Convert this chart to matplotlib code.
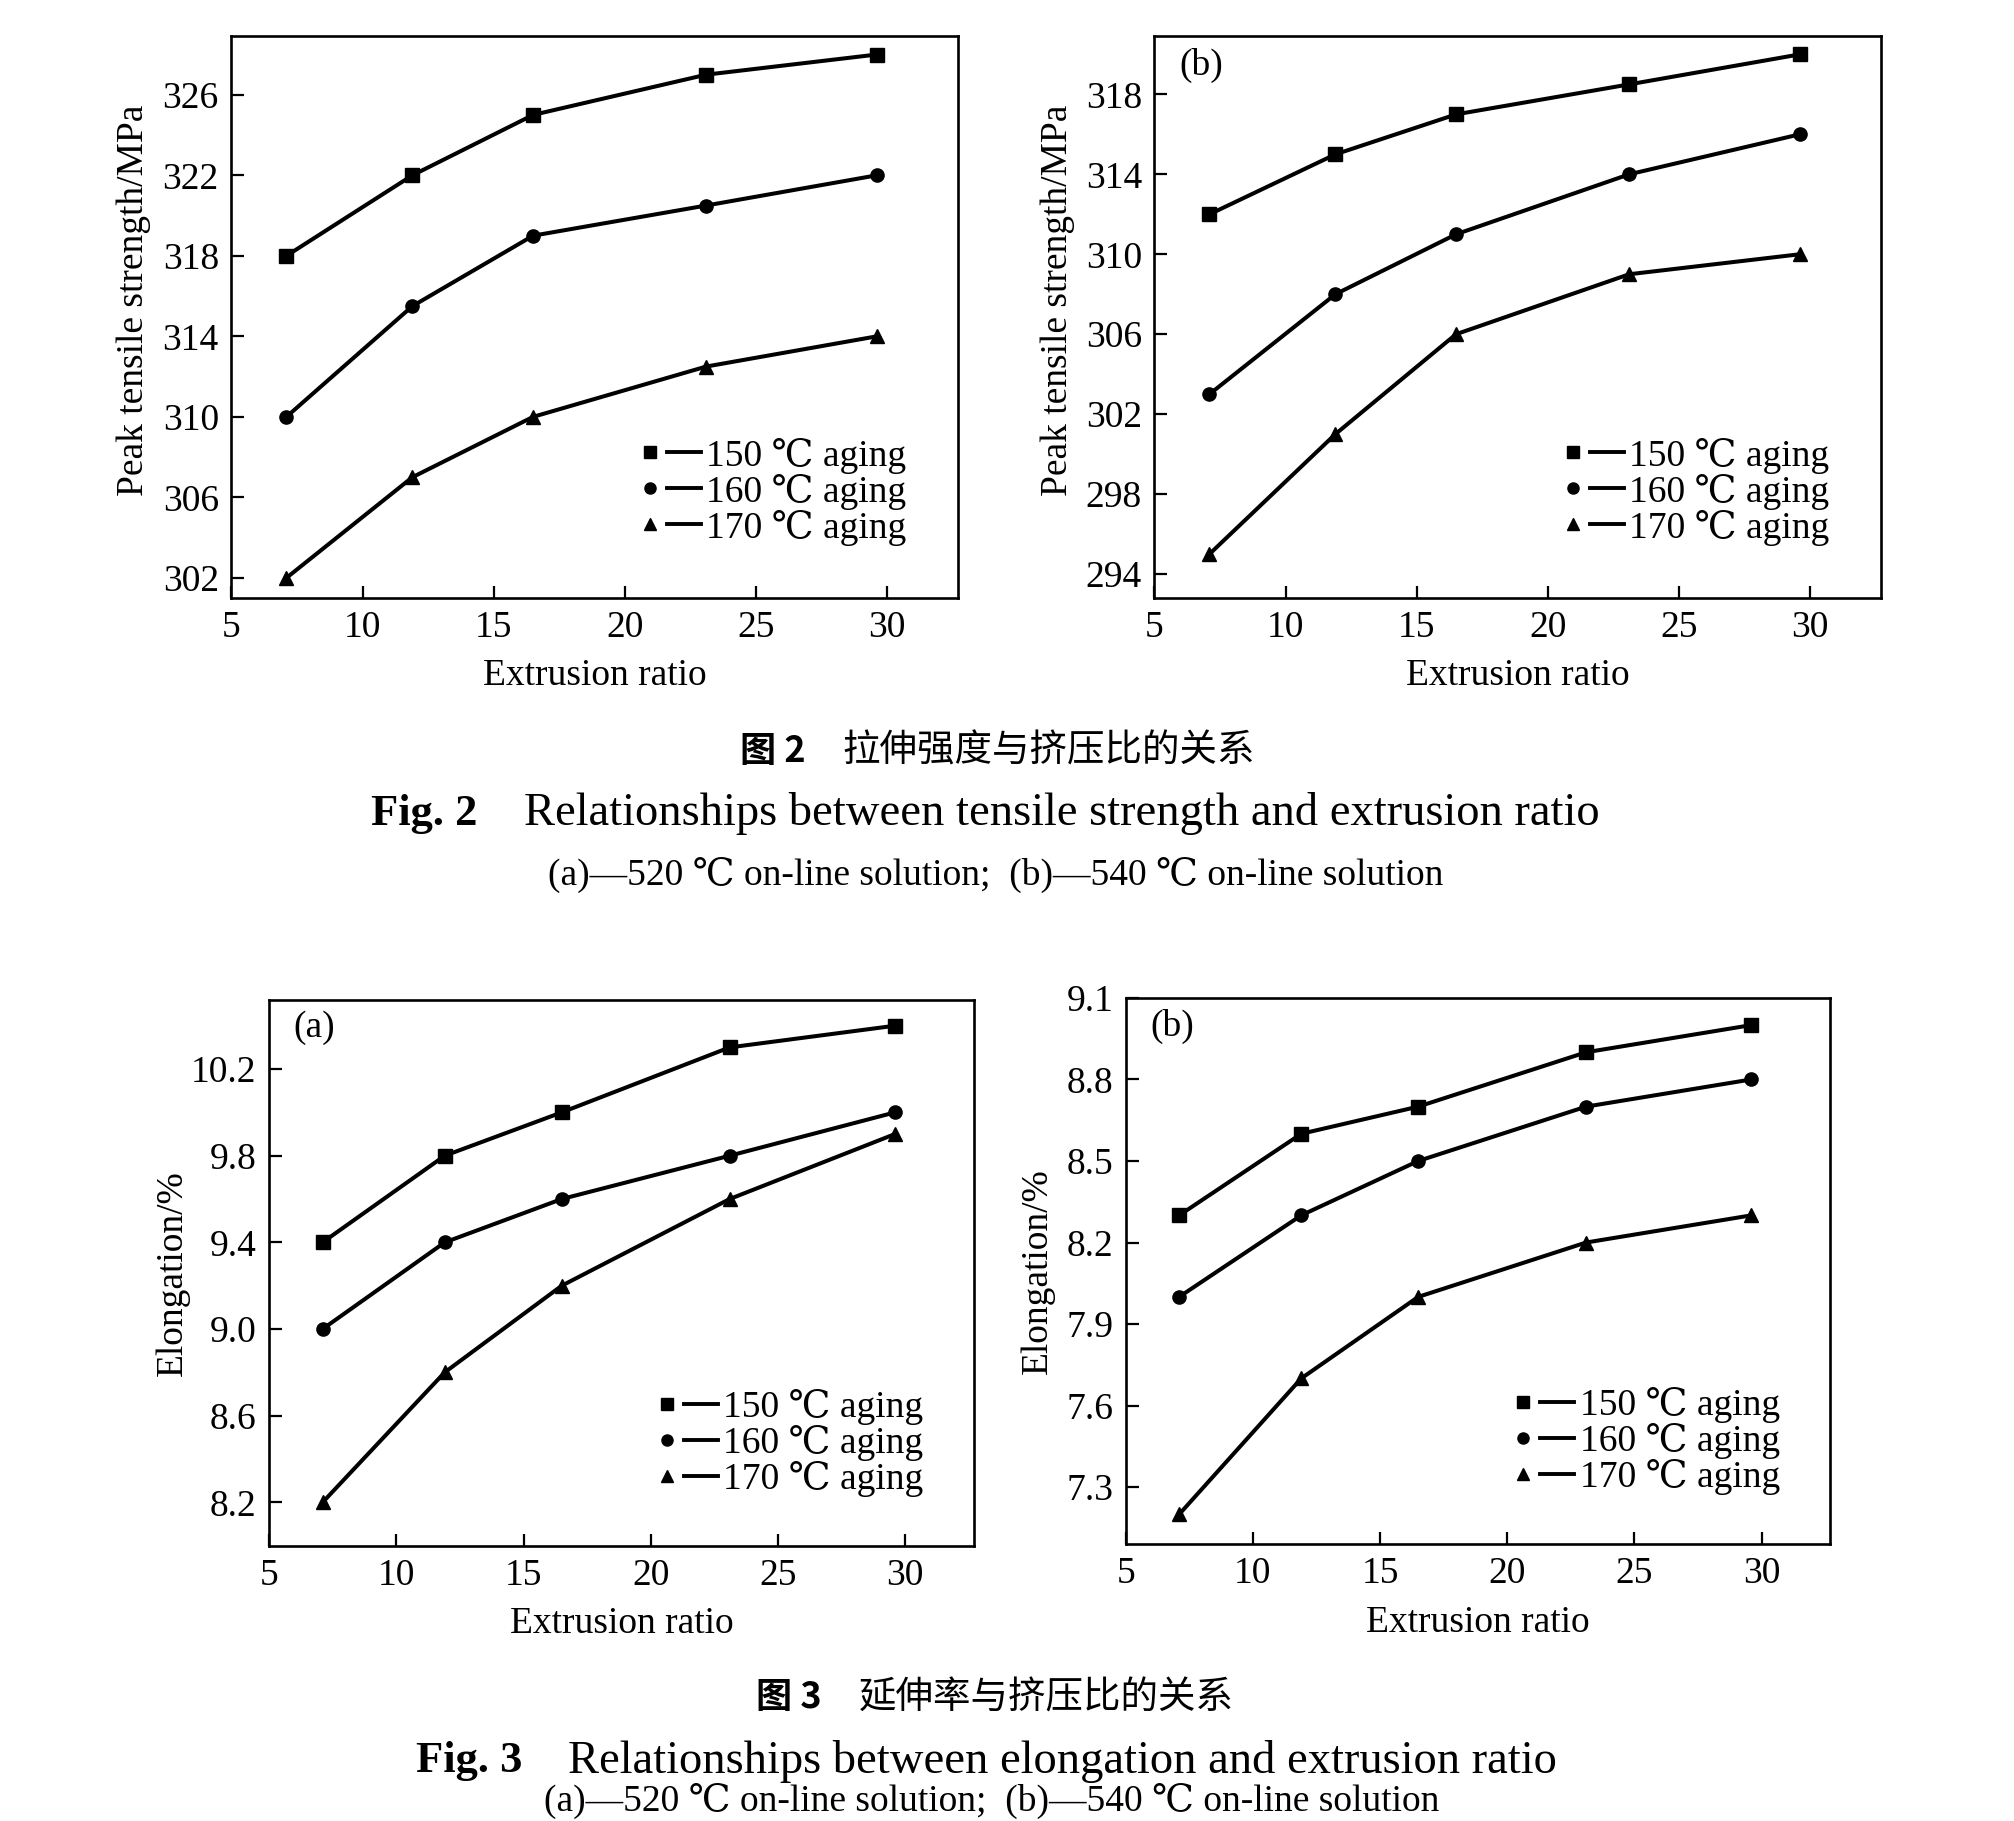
import matplotlib
matplotlib.use("Agg")
import matplotlib.pyplot as plt
from matplotlib.legend_handler import HandlerTuple
from matplotlib.lines import Line2D

plt.rcParams["font.family"] = ["Liberation Serif", "DejaVu Serif"]

# extrusion ratios (same for every panel)
ratio = [7.1, 11.9, 16.5, 23.1, 29.6]
labels = ["150 ℃ aging", "160 ℃ aging", "170 ℃ aging"]
markers = ["s", "o", "^"]

# Fig. 2 peak tensile strength, MPa
ts_a = [[318, 322, 325, 327, 328],
        [310, 315.5, 319, 320.5, 322],
        [302, 307, 310, 312.5, 314]]
ts_b = [[312, 315, 317, 318.5, 320],
        [303, 308, 311, 314, 316],
        [295, 301, 306, 309, 310]]
# Fig. 3 elongation, %
el_a = [[9.4, 9.8, 10.0, 10.3, 10.4],
        [9.0, 9.4, 9.6, 9.8, 10.0],
        [8.2, 8.8, 9.2, 9.6, 9.9]]
el_b = [[8.3, 8.6, 8.7, 8.9, 9.0],
        [8.0, 8.3, 8.5, 8.7, 8.8],
        [7.2, 7.7, 8.0, 8.2, 8.3]]

FS = 27
fig = plt.figure(figsize=(20.15, 18.21), dpi=100)


def panel(rect, series, ylim, yticks, yfmt, ylabel, tag, leg_anchor,
          ypad=8, ylab_y=0.5):
    ax = fig.add_axes(rect)
    for ys, m in zip(series, markers):
        ax.plot(ratio, ys, color="black", lw=2.9, marker=m, ms=9.5)
    ax.set_xlim(5, 32.7)
    ax.set_ylim(*ylim)
    ax.set_xticks([5, 10, 15, 20, 25, 30])
    ax.set_yticks(yticks)
    ax.set_yticklabels([yfmt.format(v) for v in yticks])
    ax.tick_params(direction="in", length=9, width=1.6, labelsize=FS, pad=9)
    for s in ax.spines.values():
        s.set_linewidth(1.9)
    ax.set_xlabel("Extrusion ratio", fontsize=FS, labelpad=10)
    ax.set_ylabel(ylabel, fontsize=FS, labelpad=ypad)
    ax.yaxis.label.set_y(ylab_y)
    if tag:
        ax.text(0.035, 0.98, tag, transform=ax.transAxes, fontsize=FS,
                ha="left", va="top")
    handles = []
    for m in markers:
        mk = Line2D([], [], color="black", marker=m, ms=8, ls="none")
        ln = Line2D([], [], color="black", lw=2.8)
        handles.append((mk, ln))
    ax.legend(handles, labels, loc="lower right", bbox_to_anchor=leg_anchor,
              frameon=False, fontsize=FS, handlelength=1.8, handletextpad=0.15,
              labelspacing=0.0, borderpad=0,
              handler_map={tuple: HandlerTuple(ndivide=2, pad=0)})
    return ax


panel([0.1148, 0.6716, 0.3607, 0.3084], ts_a, (301, 328.9),
      [302, 306, 310, 314, 318, 322, 326], "{:d}",
      "Peak tensile strength/MPa", None, (0.955, 0.06), ylab_y=0.53)
panel([0.5729, 0.6716, 0.3606, 0.3084], ts_b, (292.8, 320.9),
      [294, 298, 302, 306, 310, 314, 318], "{:d}",
      "Peak tensile strength/MPa", "(b)", (0.955, 0.06), ylab_y=0.53)
panel([0.1336, 0.1512, 0.3497, 0.2998], el_a, (8.0, 10.52),
      [8.2, 8.6, 9.0, 9.4, 9.8, 10.2], "{:.1f}",
      "Elongation/%", "(a)", (0.955, 0.055), ypad=1)
panel([0.5587, 0.152, 0.3496, 0.300], el_b, (7.09, 9.1),
      [7.3, 7.6, 7.9, 8.2, 8.5, 8.8, 9.1], "{:.1f}",
      "Elongation/%", "(b)", (0.955, 0.055))

cjk = ["Noto Sans CJK SC", "DejaVu Sans"]
fig.text(0.400, 0.5875, "图 2", family=cjk, weight="bold", fontsize=26,
         ha="right", va="center")
fig.text(0.418, 0.5875, "拉伸强度与挤压比的关系", family=cjk, fontsize=27,
         ha="left", va="center")
fig.text(0.2368, 0.553, "Fig. 2", weight="bold", fontsize=32,
         ha="right", va="center")
fig.text(0.260, 0.553, "Relationships between tensile strength and extrusion ratio",
         fontsize=33.5, ha="left", va="center")
fig.text(0.494, 0.5195, "(a)—520 ℃ on-line solution;  (b)—540 ℃ on-line solution",
         fontsize=27, ha="center", va="center")

fig.text(0.408, 0.0676, "图 3", family=cjk, weight="bold", fontsize=26,
         ha="right", va="center")
fig.text(0.426, 0.0676, "延伸率与挤压比的关系", family=cjk, fontsize=27,
         ha="left", va="center")
fig.text(0.259, 0.0327, "Fig. 3", weight="bold", fontsize=32,
         ha="right", va="center")
fig.text(0.282, 0.0327, "Relationships between elongation and extrusion ratio",
         fontsize=33.5, ha="left", va="center")
fig.text(0.492, 0.001, "(a)—520 ℃ on-line solution;  (b)—540 ℃ on-line solution",
         fontsize=27, ha="center", va="bottom")

fig.savefig("out.png", dpi=100)
